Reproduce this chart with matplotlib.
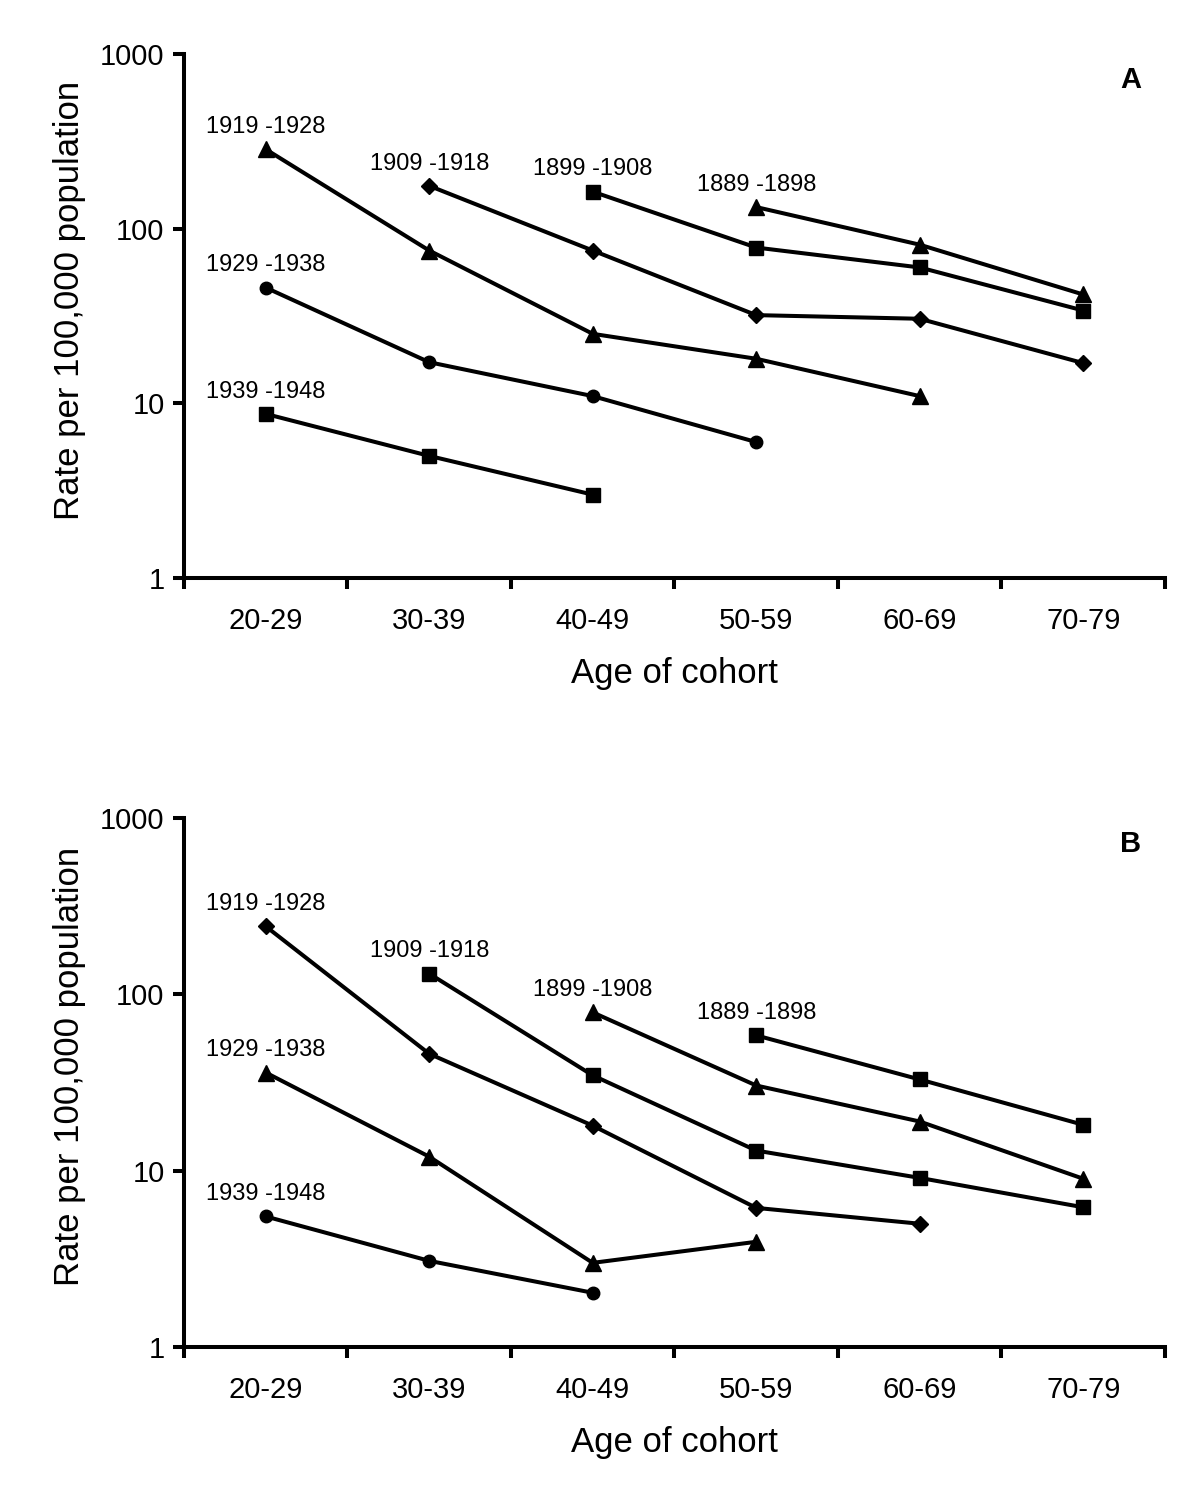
import matplotlib
matplotlib.use("Agg")
import matplotlib.pyplot as plt
from matplotlib.ticker import FixedLocator, NullLocator, FixedFormatter

plt.rcParams['font.family'] = ['Liberation Sans', 'DejaVu Sans']

age_groups = ["20-29", "30-39", "40-49", "50-59", "60-69", "70-79"]
y_ticks = [1, 10, 100, 1000]
y_tick_labels = ["1", "10", "100", "1000"]

# Panel A: cohort -> (start index of age group, values, marker)
cohorts_a = ["1889 -1898", "1899 -1908", "1909 -1918", "1919 -1928", "1929 -1938", "1939 -1948"]
start_a = [3, 2, 1, 0, 0, 0]
values_a = [
    [133, 81, 42],
    [163, 78, 60, 34],
    [176, 75, 32, 30.5, 17],
    [285, 75, 25, 18, 11],
    [46, 17.2, 11, 6],
    [8.7, 5, 3],
]
markers_a = ["^", "s", "D", "^", "o", "s"]

# Panel B
cohorts_b = ["1889 -1898", "1899 -1908", "1909 -1918", "1919 -1928", "1929 -1938", "1939 -1948"]
start_b = [3, 2, 1, 0, 0, 0]
values_b = [
    [58.5, 32.9, 18.2],
    [79, 30.4, 19, 9],
    [131, 34.7, 13, 9.1, 6.2],
    [243, 46, 18, 6.15, 5],
    [36, 12, 3.0, 3.95],
    [5.5, 3.08, 2.03],
]
markers_b = ["s", "^", "s", "D", "^", "o"]

marker_sizes = {"^": 12, "s": 9.5, "D": 8.5, "o": 9}

fig = plt.figure(figsize=(12, 15.02), dpi=100)
ax_a = fig.add_axes([0.1533, 0.6152, 0.8175, 0.3488])
ax_b = fig.add_axes([0.1533, 0.1032, 0.8175, 0.3522])


def draw(ax, cohorts, starts, values, markers, letter):
    for name, s, vals, m in zip(cohorts, starts, values, markers):
        xs = [s + 0.5 + i for i in range(len(vals))]
        ax.plot(xs, vals, color="black", lw=2.9, marker=m,
                markersize=marker_sizes[m], markerfacecolor="black",
                markeredgecolor="black", solid_joinstyle="miter")
        ax.annotate(name, (xs[0], vals[0]), xytext=(0, 16),
                    textcoords="offset points", ha="center", va="center",
                    fontsize=17)
    ax.set_yscale("log")
    ax.set_ylim(1, 1000)
    ax.set_xlim(0, 6)
    ax.yaxis.set_major_locator(FixedLocator(y_ticks))
    ax.yaxis.set_major_formatter(FixedFormatter(y_tick_labels))
    ax.yaxis.set_minor_locator(NullLocator())
    ax.xaxis.set_major_locator(FixedLocator(list(range(7))))
    ax.xaxis.set_major_formatter(FixedFormatter([""] * 7))
    ax.xaxis.set_minor_locator(FixedLocator([i + 0.5 for i in range(6)]))
    ax.xaxis.set_minor_formatter(FixedFormatter(age_groups))
    ax.tick_params(axis="x", which="major", direction="out", length=8, width=2.9)
    ax.tick_params(axis="x", which="minor", length=0, pad=21, labelsize=21)
    ax.tick_params(axis="y", which="major", direction="out", length=8, width=2.9,
                   pad=6, labelsize=21)
    for sp in ["top", "right"]:
        ax.spines[sp].set_visible(False)
    for sp in ["left", "bottom"]:
        ax.spines[sp].set_linewidth(2.9)
    ax.set_xlabel("Age of cohort", fontsize=25, labelpad=16)
    ax.set_ylabel("Rate per 100,000 population", fontsize=25, labelpad=10, y=0.53)
    ax.text(0.965, 0.95, letter, transform=ax.transAxes, fontsize=21,
            fontweight="bold", ha="center", va="center")


draw(ax_a, cohorts_a, start_a, values_a, markers_a, "A")
draw(ax_b, cohorts_b, start_b, values_b, markers_b, "B")

fig.savefig("out.png", dpi=100)
